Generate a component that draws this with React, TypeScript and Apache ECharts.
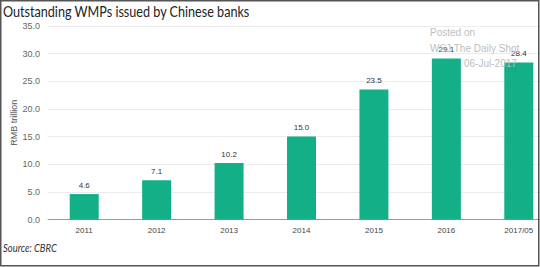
import React, { useEffect, useRef } from "react";
import * as echarts from "echarts";

const categories = ["2011", "2012", "2013", "2014", "2015", "2016", "2017/05"];
const values = [4.6, 7.1, 10.2, 15.0, 23.5, 29.1, 28.4];
const yTicks = { min: 0, max: 35, interval: 5 };
const titleText = "Outstanding WMPs issued by Chinese banks";
const yAxisName = "RMB trillion";
const sourceText = "Source: CBRC";
const watermark = ["Posted on", "WSJ The Daily Shot", "06-Jul-2017"];

export default function App() {
  const ref = useRef<HTMLDivElement>(null);
  useEffect(() => {
    const chart = echarts.init(ref.current!, null, { renderer: "svg" });
    chart.setOption({
      animation: false,
      backgroundColor: "#ffffff",
      grid: {
        left: 48,
        top: 26,
        width: 507,
        height: 193.5,
        containLabel: false,
        outerBoundsMode: "none",
      },
      xAxis: {
        type: "category",
        data: categories,
        axisLine: { lineStyle: { color: "#9a9a9a", width: 1 } },
        axisTick: { show: false },
        axisLabel: { color: "#444", fontSize: 8, fontFamily: "Liberation Sans", margin: 7 },
      },
      yAxis: {
        type: "value",
        min: yTicks.min,
        max: yTicks.max,
        interval: yTicks.interval,
        name: yAxisName,
        nameLocation: "middle",
        nameGap: 30,
        nameMoveOverlap: false,
        nameTextStyle: { color: "#555", fontSize: 9, fontFamily: "Liberation Sans" },
        axisLine: { show: false },
        axisTick: { show: false },
        axisLabel: {
          color: "#666",
          fontSize: 9,
          fontFamily: "Liberation Sans",
          margin: 8,
          formatter: (v: number) => v.toFixed(1),
        },
        splitLine: { lineStyle: { color: "#ececec", width: 1 } },
      },
      series: [
        {
          type: "bar",
          data: values,
          barWidth: 29,
          itemStyle: { color: "#13b087" },
          label: {
            show: true,
            position: "top",
            distance: 5,
            color: "#333",
            fontSize: 8,
            fontFamily: "Liberation Sans",
            formatter: (p: any) => Number(p.value).toFixed(1),
          },
        },
      ],
      graphic: [
        {
          type: "text",
          x: 3,
          y: 4,
          scaleX: 0.87,
          style: { text: titleText, fill: "#222", font: "14.5px Lato" },
        },
        {
          type: "text",
          x: 3,
          y: 242,
          scaleX: 0.9,
          style: { text: sourceText, fill: "#333", font: "italic 10.5px Lato" },
        },
        {
          type: "text",
          left: 430,
          top: 27,
          z: 100,
          style: { text: watermark[0], fill: "#bdbdbd", font: "10px Liberation Sans" },
        },
        {
          type: "text",
          left: 430,
          top: 43,
          z: 100,
          style: { text: watermark[1], fill: "#bdbdbd", font: "10px Liberation Sans" },
        },
        {
          type: "text",
          left: 464,
          top: 58,
          z: 100,
          style: { text: watermark[2], fill: "#bdbdbd", font: "10px Liberation Sans" },
        },
        {
          type: "rect",
          shape: { x: 0.75, y: 0.75, width: 538, height: 265 },
          style: { fill: "none", stroke: "#555", lineWidth: 1.5 },
          z: 200,
        },
      ],
    });
    return () => chart.dispose();
  }, []);
  return (
    <div
      ref={ref}
      style={{ position: "absolute", left: 0, top: 0, width: 540, height: 267 }}
    />
  );
}
